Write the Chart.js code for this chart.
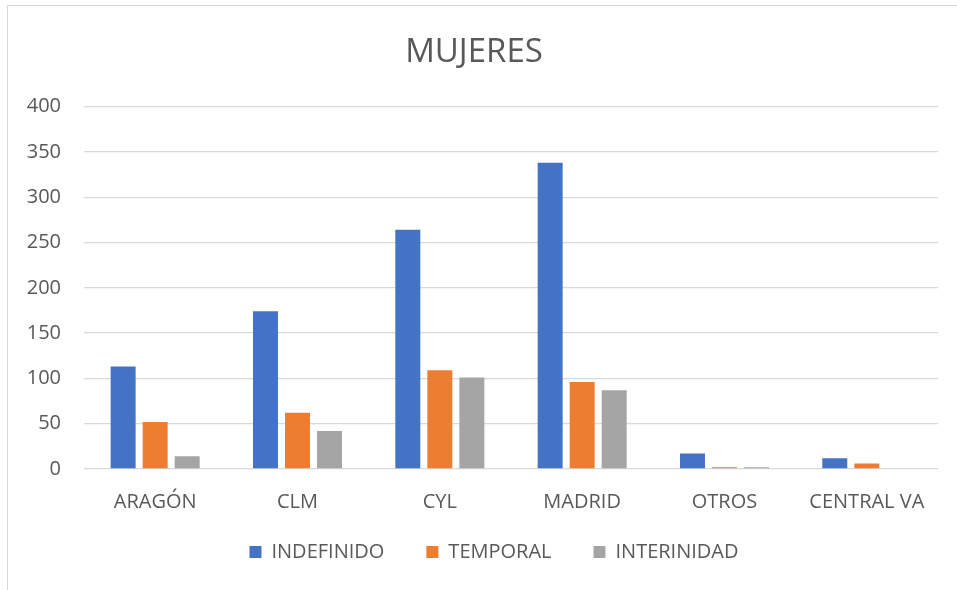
<!DOCTYPE html>
<html>
<head>
<meta charset="utf-8">
<script src="https://cdn.jsdelivr.net/npm/chart.js@4"></script>
<style>
    body { margin: 0; background: #fff; }
    #frame {
        position: absolute; left: 7px; top: 5px;
        width: 1000px; height: 1000px;
        border-left: 1px solid #d9d9d9; border-top: 1px solid #d9d9d9;
    }
    #wrap { position: absolute; left: 0; top: 0; width: 957px; height: 590px; }
</style>
</head>
<body>
<div id="frame"></div>
<div id="wrap"><canvas id="myChart"></canvas></div>
<script>
const categories = ['ARAGÓN', 'CLM', 'CYL', 'MADRID', 'OTROS', 'CENTRAL VA'];
const indefinido = [113, 174, 264, 338, 17, 12];
const temporal = [52, 62, 109, 96, 2, 6];
const interinidad = [14, 42, 101, 87, 2, 0];
const yTicks = [0, 50, 100, 150, 200, 250, 300, 350, 400];

const textColor = '#595959';
const fontName = "'Open Sans', sans-serif";

// the legend keeps wide gaps between items but sits close under the axis labels
const legendNudge = {
    id: 'legendNudge',
    afterLayout(chart){
        const lg = chart.legend;
        lg.top -= 21; lg.bottom -= 21;
        lg.left += 20; lg.right += 20;
    }
};

createChart();

function createChart(){
    const ctx = document.getElementById('myChart').getContext('2d');
    const bar = { categoryPercentage: 0.675, barPercentage: 0.78, borderWidth: 0 };
    new Chart(ctx, {
        type: 'bar',
        data: {
            labels: categories,
            datasets: [
                { label: 'INDEFINIDO', data: indefinido, backgroundColor: '#4472C4', ...bar },
                { label: 'TEMPORAL', data: temporal, backgroundColor: '#ED7D31', ...bar },
                { label: 'INTERINIDAD', data: interinidad, backgroundColor: '#A5A5A5', ...bar }
            ]
        },
        plugins: [legendNudge],
        options: {
            responsive: true,
            maintainAspectRatio: false,
            animation: false,
            layout: { padding: { left: 10, right: 19, top: 0, bottom: 7 } },
            plugins: {
                title: {
                    display: true,
                    text: 'MUJERES',
                    color: textColor,
                    font: { family: fontName, size: 33, weight: 'normal' },
                    padding: { top: 33, bottom: 34 }
                },
                legend: {
                    position: 'bottom',
                    maxHeight: 62,
                    labels: {
                        color: textColor,
                        font: { family: fontName, size: 20 },
                        boxWidth: 12,
                        boxHeight: 12,
                        padding: 42
                    }
                },
                tooltip: { enabled: false }
            },
            scales: {
                x: {
                    grid: { display: false },
                    border: { display: false },
                    ticks: {
                        color: textColor,
                        font: { family: fontName, size: 20 },
                        padding: 13,
                        maxRotation: 0
                    },
                    afterFit: s => { s.height = 52; }
                },
                y: {
                    min: 0,
                    max: 400,
                    afterBuildTicks: s => { s.ticks = yTicks.map(v => ({ value: v })); },
                    grid: { color: '#d9d9d9', lineWidth: 1.3, drawTicks: false },
                    border: { display: false },
                    ticks: {
                        color: textColor,
                        font: { family: fontName, size: 20 },
                        padding: 23
                    },
                    afterFit: s => { s.width = 74; }
                }
            }
        }
    });
}
</script>
</body>
</html>
